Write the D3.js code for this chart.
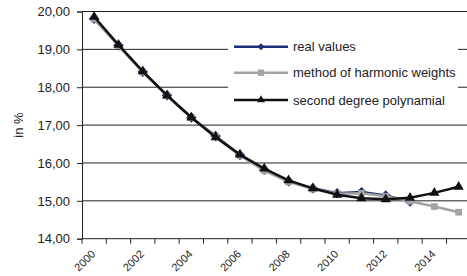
<!DOCTYPE html>
<html lang="en">
<head>
    <meta charset="utf-8">
    <title>in %</title>
    <style>
        * { margin: 0; padding: 0; }
        body { background: #fff; }
        svg { display: block; font-family: 'Liberation Sans', Arial, sans-serif; }
    </style>
</head>
<body>
    <div id="chart"></div>
    <script src="https://d3js.org/d3.v7.min.js"></script>
    <script>
        // data
        var years = [2000, 2001, 2002, 2003, 2004, 2005, 2006, 2007, 2008, 2009, 2010, 2011, 2012, 2013, 2014, 2015];
        var realValues = [19.81, 19.11, 18.41, 17.79, 17.2, 16.71, 16.21, 15.82, 15.52, 15.33, 15.2, 15.23, 15.14, 14.98, null, null];
        var harmonicWeights = [19.8, 19.1, 18.4, 17.78, 17.2, 16.7, 16.2, 15.8, 15.5, 15.31, 15.19, 15.2, 15.12, 14.99, 14.85, 14.7];
        var polynomial = [19.86, 19.12, 18.42, 17.78, 17.2, 16.68, 16.22, 15.85, 15.54, 15.33, 15.16, 15.07, 15.04, 15.08, 15.21, 15.37];
        var yTicks = [14, 15, 16, 17, 18, 19, 20];
        var xLabelYears = [2000, 2002, 2004, 2006, 2008, 2010, 2012, 2014];

        var width = 467, height = 276;
        var plotLeft = 82, plotRight = 470.8, plotTop = 11.5, plotBottom = 238.7;

        var svg = d3.select("#chart").append("svg")
            .attr("width", width)
            .attr("height", height);

        var x = d3.scaleBand().domain(years).range([plotLeft, plotRight]);
        var y = d3.scaleLinear().domain([14, 20]).range([plotBottom, plotTop]);
        var cx = function (yr) { return x(yr) + x.bandwidth() / 2; };

        // gridlines
        svg.append("g").selectAll("line")
            .data(yTicks.slice(1))
            .enter().append("line")
            .attr("x1", plotLeft).attr("x2", width)
            .attr("y1", function (d) { return y(d); })
            .attr("y2", function (d) { return y(d); })
            .style("stroke", "#222").style("stroke-width", 1);

        // y axis
        var yAxis = svg.append("g")
            .attr("transform", "translate(" + plotLeft + ",0)")
            .call(d3.axisLeft(y).tickValues(yTicks).tickSize(5).tickPadding(7)
                .tickFormat(function (d) { return d3.format(".2f")(d).replace(".", ","); }));
        yAxis.select(".domain").style("stroke", "#222");
        yAxis.selectAll(".tick line").style("stroke", "#222");
        yAxis.selectAll("text").style("font-size", "13px").style("fill", "#222")
            .style("font-family", "'Liberation Sans', Arial, sans-serif");

        // x axis
        svg.append("line")
            .attr("x1", plotLeft).attr("x2", width)
            .attr("y1", plotBottom).attr("y2", plotBottom)
            .style("stroke", "#222");
        svg.append("g").selectAll("line")
            .data(d3.range(years.length + 1))
            .enter().append("line")
            .attr("x1", function (i) { return plotLeft + i * x.step(); })
            .attr("x2", function (i) { return plotLeft + i * x.step(); })
            .attr("y1", plotBottom).attr("y2", plotBottom + 5)
            .style("stroke", "#222");
        svg.append("g").selectAll("text")
            .data(xLabelYears)
            .enter().append("text")
            .attr("transform", function (d) { return "translate(" + (cx(d) + 2) + "," + (plotBottom + 16) + ") rotate(-45)"; })
            .attr("text-anchor", "end")
            .style("font-size", "11px").style("fill", "#222")
            .text(function (d) { return d; });

        // y label
        svg.append("text")
            .attr("transform", "translate(23," + ((plotTop + plotBottom) / 2) + ") rotate(-90)")
            .attr("text-anchor", "middle")
            .style("font-size", "13px").style("fill", "#222")
            .text("in %");

        var series = [
            { name: "real values", values: realValues, color: "#1f2d7a", marker: "diamond" },
            { name: "method of harmonic weights", values: harmonicWeights, color: "#a3a3a3", marker: "square" },
            { name: "second degree polynamial", values: polynomial, color: "#111", marker: "triangle" }
        ];

        var symbolFor = function (m, big) {
            if (m === "diamond") return d3.symbol().type(d3.symbolDiamond2).size(big ? 70 : 30)();
            if (m === "square") return d3.symbol().type(d3.symbolSquare).size(big ? 45 : 40)();
            return d3.symbol().type(d3.symbolTriangle).size(big ? 45 : 28)();
        };

        var line = d3.line()
            .defined(function (d) { return d.v != null; })
            .x(function (d) { return cx(d.yr); })
            .y(function (d) { return y(d.v); });

        series.forEach(function (s) {
            var pts = years.map(function (yr, i) { return { yr: yr, v: s.values[i] }; });
            svg.append("path")
                .datum(pts)
                .attr("d", line)
                .style("fill", "none")
                .style("stroke", s.color)
                .style("stroke-width", 2.5);
            svg.append("g").selectAll("path")
                .data(pts.filter(function (d) { return d.v != null; }))
                .enter().append("path")
                .attr("transform", function (d) { return "translate(" + cx(d.yr) + "," + y(d.v) + ")"; })
                .attr("d", symbolFor(s.marker, true))
                .style("fill", s.color);
        });

        // legend
        var legend = svg.append("g");
        legend.append("rect")
            .attr("x", 228).attr("y", 28)
            .attr("width", 230).attr("height", 84)
            .style("fill", "#fff");
        var entry = legend.selectAll("g.entry")
            .data(series)
            .enter().append("g")
            .attr("class", "entry")
            .attr("transform", function (d, i) { return "translate(0," + [46.7, 72.7, 100][i] + ")"; });
        entry.append("line")
            .attr("x1", 234).attr("x2", 288)
            .style("stroke", function (d) { return d.color; })
            .style("stroke-width", 2.5);
        entry.append("path")
            .attr("transform", "translate(261,0)")
            .attr("d", function (d) { return symbolFor(d.marker, false); })
            .style("fill", function (d) { return d.color; });
        entry.append("text")
            .attr("x", 293).attr("dy", "0.35em")
            .style("font-size", "13px").style("fill", "#222")
            .text(function (d) { return d.name; });
    </script>
</body>
</html>
